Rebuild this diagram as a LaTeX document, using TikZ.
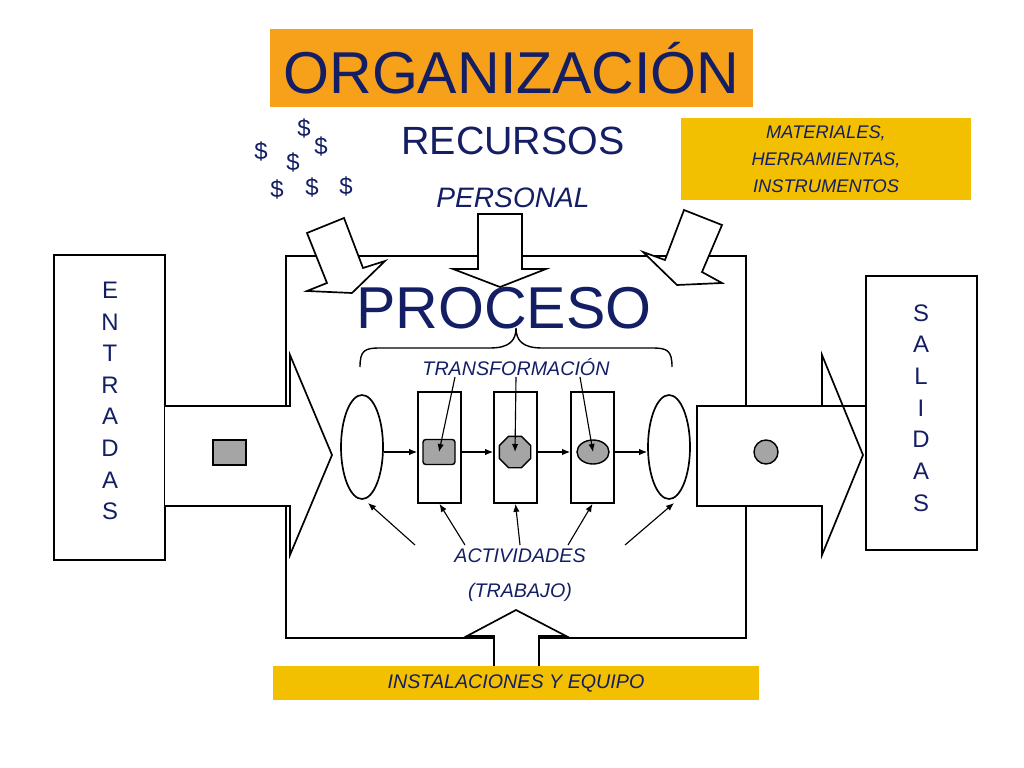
\documentclass[tikz,border=0pt]{standalone}
\usepackage{fontspec}
\setmainfont{Liberation Sans}
\usetikzlibrary{arrows.meta, shapes.geometric}
\definecolor{navy}{RGB}{20,30,100}
\definecolor{orgorange}{RGB}{247,160,26}
\definecolor{resyellow}{RGB}{242,192,0}
\definecolor{itemgray}{RGB}{165,165,165}

\begin{document}
\begin{tikzpicture}[
    x=0.025cm, y=-0.025cm,
    line width=1pt,
    txt/.style={text=navy, inner sep=0pt},
    bigarrow/.style={draw=black, fill=white, line width=1.2pt},
    stage/.style={draw=black, fill=white, line width=1.2pt},
    arrow/.style={-{Latex[length=2mm,width=1.6mm]}, line width=0.8pt}
]
\useasboundingbox (0,0) rectangle (1024,768);

% titulo y recursos
\node[fill=orgorange, minimum width=483*0.025cm, minimum height=78*0.025cm, inner sep=0pt] (org) at (511.5,68) {};
\node[txt, font=\fontsize{42}{44}\selectfont] at (org) {ORGANIZACIÓN};
\node[txt, font=\fontsize{28}{30}\selectfont] (recursos) at (513,141) {RECURSOS};
\node[txt, font=\fontsize{20}{22}\selectfont\itshape] (personal) at (513,198) {PERSONAL};
\node[fill=resyellow, minimum width=290*0.025cm, minimum height=82*0.025cm, inner sep=0pt] (materiales) at (826,159) {};
\node[txt, align=center, font=\fontsize{13}{19}\selectfont\itshape] at (materiales) {MATERIALES,\\HERRAMIENTAS,\\INSTRUMENTOS};
\foreach \x/\y [count=\i] in {304/128, 261/151, 321/146, 293/162, 277/189, 312/187, 346/186}
    \node[txt, font=\fontsize{17}{18}\selectfont] (dolar\i) at (\x,\y) {\$};

% caja del proceso
\node[draw, line width=1.2pt, minimum width=460*0.025cm, minimum height=382*0.025cm, inner sep=0pt] (proceso) at (516,447) {};
\node[txt, font=\fontsize{42}{44}\selectfont] (titproceso) at (504,308) {PROCESO};

% flechas de recursos
\draw[bigarrow] (307,233) -- (344,218) -- (363,268) -- (385,261) -- (352,293) -- (307,291) -- (327,283) -- cycle;
\draw[bigarrow] (478,214) -- (522,214) -- (522,269) -- (546,269) -- (500,287) -- (453,269) -- (478,269) -- cycle;
\draw[bigarrow] (684,210) -- (722,225) -- (702,272) -- (722,283) -- (677,285) -- (643,252) -- (665,260) -- cycle;

% entradas y salidas
\node[draw, line width=1.2pt, minimum width=111*0.025cm, minimum height=305*0.025cm, inner sep=0pt] (entradas) at (109.5,407.5) {};
\node[txt, align=center, font=\fontsize{17}{22.5}\selectfont] at (110,401) {E\\N\\T\\R\\A\\D\\A\\S};
\draw[bigarrow] (165,406) -- (290,406) -- (290,355) -- (332,455) -- (290,555) -- (290,506) -- (165,506);
\node[draw, fill=itemgray, minimum width=33*0.025cm, minimum height=25*0.025cm, inner sep=0pt] (insumo) at (229.5,452.5) {};

\node[draw, line width=1.2pt, minimum width=111*0.025cm, minimum height=274*0.025cm, inner sep=0pt] (salidas) at (921.5,413) {};
\node[txt, align=center, font=\fontsize{17}{22.5}\selectfont] at (921,408) {S\\A\\L\\I\\D\\A\\S};
\draw[bigarrow] (866,406) -- (697,406) -- (697,506) -- (822,506) -- (822,555) -- (863,455) -- (822,355) -- (822,406);
\node[draw, fill=itemgray, circle, minimum size=24*0.025cm, inner sep=0pt] (producto) at (766,452) {};

% llave y transformacion
\draw[line width=1pt] (360,367) .. controls (360,350) and (365,348) .. (380,348) -- (490,348)
    .. controls (510,348) and (516,340) .. (516,328) .. controls (516,340) and (522,348) .. (542,348)
    -- (652,348) .. controls (667,348) and (672,350) .. (672,367);
\node[txt, font=\fontsize{14}{15}\selectfont\itshape] (transf) at (516,367) {TRANSFORMACIÓN};

% etapas
\node[stage, ellipse, minimum width=42*0.025cm, minimum height=104*0.025cm, inner sep=0pt] (entrada) at (362,447) {};
\node[stage, minimum width=43*0.025cm, minimum height=111*0.025cm, inner sep=0pt] (etapa1) at (439.5,447.5) {};
\node[stage, minimum width=43*0.025cm, minimum height=111*0.025cm, inner sep=0pt] (etapa2) at (515.5,447.5) {};
\node[stage, minimum width=43*0.025cm, minimum height=111*0.025cm, inner sep=0pt] (etapa3) at (592.5,447.5) {};
\node[stage, ellipse, minimum width=42*0.025cm, minimum height=104*0.025cm, inner sep=0pt] (salida) at (669,447) {};
\node[draw, fill=itemgray, rounded corners=2pt, minimum width=32*0.025cm, minimum height=25*0.025cm, inner sep=0pt] (pieza1) at (439,452) {};
\node[draw, fill=itemgray, regular polygon, regular polygon sides=8, minimum size=34*0.025cm, inner sep=0pt] (pieza2) at (515,452) {};
\node[draw, fill=itemgray, ellipse, minimum width=32*0.025cm, minimum height=24*0.025cm, inner sep=0pt] (pieza3) at (593,452) {};

\draw[arrow] (entrada.east |- pieza1) -- (etapa1.west |- pieza1);
\draw[arrow] (etapa1.east |- pieza1) -- (etapa2.west |- pieza1);
\draw[arrow] (etapa2.east |- pieza1) -- (etapa3.west |- pieza1);
\draw[arrow] (etapa3.east |- pieza1) -- (salida.west |- pieza1);

\coordinate (t1) at (455,377);
\coordinate (t2) at (516,377);
\coordinate (t3) at (580,377);
\draw[arrow] (t1) -- (pieza1.center);
\draw[arrow] (t2) -- (pieza2.center);
\draw[arrow] (t3) -- (pieza3.center);

% actividades
\node[txt, align=center, font=\fontsize{14}{25}\selectfont\itshape] (activ) at (520,575) {ACTIVIDADES\\(TRABAJO)};
\coordinate (a1) at (415,545);
\coordinate (a2) at (465,545);
\coordinate (a3) at (520,545);
\coordinate (a4) at (568,545);
\coordinate (a5) at (625,545);
\draw[arrow] (a1) -- (368,503);
\draw[arrow] (a2) -- (etapa1.south);
\draw[arrow] (a3) -- (etapa2.south);
\draw[arrow] (a4) -- (etapa3.south);
\draw[arrow] (a5) -- (674,503);

% instalaciones
\draw[bigarrow] (494,666) -- (494,636) -- (467,636) -- (516,610) -- (566,636) -- (539,636) -- (539,666);
\node[fill=resyellow, minimum width=486*0.025cm, minimum height=34*0.025cm, inner sep=0pt] (instal) at (516,683) {};
\node[txt, font=\fontsize{14}{15}\selectfont\itshape] at (instal) {INSTALACIONES Y EQUIPO};
\end{tikzpicture}
\end{document}
